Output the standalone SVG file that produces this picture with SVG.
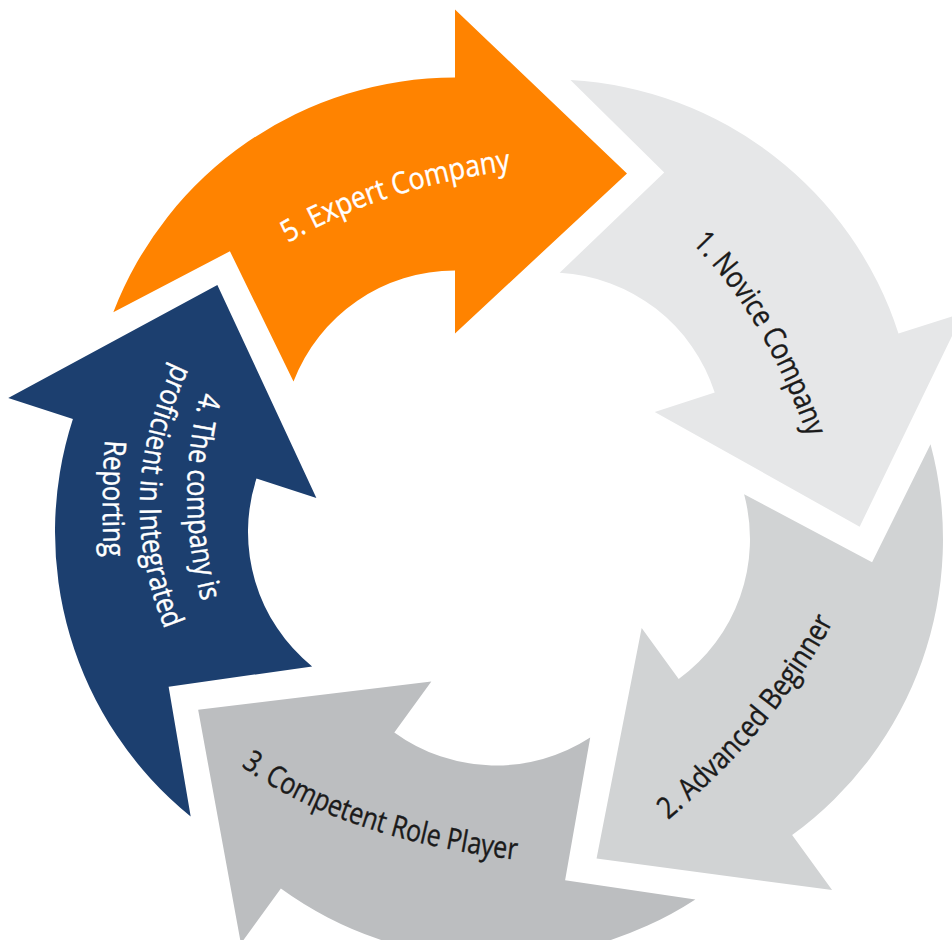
<svg xmlns="http://www.w3.org/2000/svg" width="952" height="940" viewBox="0 0 952 940">
  <style>
    .lbl { font-family: "Open Sans", "Liberation Sans", "DejaVu Sans", sans-serif; font-size: 30px; stroke-width: 0.4px; }
    .dark { fill: #1a1a1a; stroke: #1a1a1a; }
    .light { fill: #ffffff; stroke: #ffffff; }
  </style>
  <defs>
    <!-- One curved arrow segment, drawn around its own centre with its mid-angle on +x:
         shaft between r=173 and r=366 from -33deg to +36deg, V-notched tail, straight head -->
    <path id="arrow" d="M306.95,-199.34 A366,366 0 0 1 296.10,215.13 L351.11,255.10 L117.34,297.85 L88.99,64.66 L139.96,101.69 A173,173 0 0 0 145.09,-94.22 L287.82,-69.10 Z"/>
    <!-- label baselines -->
    <path id="p1" d="M692,243 Q764.5,315.5 808,438"/>
    <path id="p2" d="M668,820 Q776.1,729.3 834,620"/>
    <path id="p3" d="M241,766 Q340.7,838.5 518,860"/>
    <path id="p4a" d="M201,392 Q173,497 202,603"/>
    <path id="p4b" d="M174,363 Q110,497 166,632"/>
    <path id="p4c" d="M105,440 Q101,499 104,558"/>
    <path id="p5" d="M288,243 Q384,186.6 513,170"/>
  </defs>

  <rect width="952" height="940" fill="#ffffff"/>

  <g id="stage-1">
    <use href="#arrow" transform="translate(550,445.5) rotate(306.2)" fill="#E6E7E8"/>
    <text class="lbl dark"><textPath href="#p1" textLength="228" lengthAdjust="spacingAndGlyphs">1. Novice Company</textPath></text>
  </g>

  <g id="stage-2">
    <use href="#arrow" transform="translate(577,539) rotate(18)" fill="#D1D3D4"/>
    <text class="lbl dark"><textPath href="#p2" textLength="260" lengthAdjust="spacingAndGlyphs">2. Advanced Beginner</textPath></text>
  </g>

  <g id="stage-3">
    <use href="#arrow" transform="translate(496,592.5) rotate(90)" fill="#BCBEC0"/>
    <text class="lbl dark"><textPath href="#p3" textLength="294" lengthAdjust="spacingAndGlyphs">3. Competent Role Player</textPath></text>
  </g>

  <g id="stage-4">
    <use href="#arrow" transform="translate(421,532) rotate(162)" fill="#1C3F6F"/>
    <text class="lbl light"><textPath href="#p4a" textLength="212" lengthAdjust="spacingAndGlyphs">4. The company is</textPath></text>
    <text class="lbl light"><textPath href="#p4b" textLength="275" lengthAdjust="spacingAndGlyphs">proficient in Integrated</textPath></text>
    <text class="lbl light"><textPath href="#p4c" textLength="117" lengthAdjust="spacingAndGlyphs">Reporting</textPath></text>
  </g>

  <g id="stage-5">
    <use href="#arrow" transform="translate(455,443.5) rotate(234)" fill="#FF8300"/>
    <text class="lbl light"><textPath href="#p5" textLength="236" lengthAdjust="spacingAndGlyphs">5. Expert Company</textPath></text>
  </g>

  <g id="connectors"/>
</svg>
